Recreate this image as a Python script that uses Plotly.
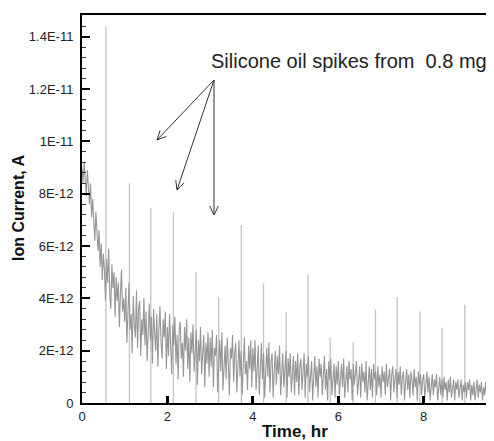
import math
import plotly.graph_objects as go

# ---- data (ion current in units of 1e-12 A) ----
sample_step_hr = 0.025
noise_pA = [
    # hour 0
    9.0, 8.4, 9.2, 8.7, 7.9, 8.9, 8.2, 7.6, 8.4, 7.1, 7.8, 6.9, 6.2, 7.3, 6.5, 5.8, 6.6, 5.2, 6.1, 4.7,
    5.7, 5.1, 3.9, 5.5, 4.6, 5.9, 4.1, 3.6, 5.3, 4.4, 5.0, 3.3, 4.8, 3.9, 4.6, 2.9, 4.2, 5.1, 3.5, 4.0,
    # hour 1
    3.1, 4.4, 2.3, 3.7, 4.6, 2.8, 3.4, 1.9, 4.1, 3.0, 2.5, 4.3, 2.1, 3.6, 3.9, 1.8, 3.2, 2.6, 4.0, 2.2,
    3.5, 1.6, 2.9, 3.8, 2.4, 3.3, 1.5, 3.6, 2.7, 2.0, 3.4, 1.4, 2.8, 3.7, 2.3, 1.7, 3.2, 2.5, 3.5, 1.3,
    # hour 2
    2.9, 1.8, 3.4, 2.4, 1.1, 3.0, 2.2, 3.3, 1.5, 2.6, 0.9, 2.8, 3.1, 1.7, 2.3, 1.0, 2.9, 2.0, 3.2, 1.3,
    2.5, 0.8, 2.7, 1.9, 3.0, 1.2, 2.2, 2.8, 0.7, 2.4, 1.6, 2.9, 1.1, 2.1, 2.6, 0.6, 2.3, 1.5, 2.7, 1.0,
    # hour 3
    2.5, 1.4, 2.8, 0.6, 2.1, 1.8, 2.6, 0.4, 1.9, 2.4, 1.2, 2.7, 0.5, 1.6, 2.2, 0.9, 2.5, 1.5, 0.3, 2.1,
    1.7, 2.6, 0.8, 1.9, 2.3, 0.4, 1.4, 2.4, 1.0, 2.0, 0.3, 1.8, 2.5, 1.1, 1.6, 0.5, 2.2, 1.3, 2.4, 0.6,
    # hour 4
    2.1, 1.2, 2.4, 0.5, 1.7, 2.2, 0.3, 1.5, 2.3, 0.9, 1.9, 0.2, 1.4, 2.1, 1.0, 2.3, 0.4, 1.6, 1.9, 0.2,
    1.2, 2.0, 0.7, 1.8, 1.1, 2.2, 0.3, 1.5, 1.9, 0.6, 1.3, 2.0, 0.2, 1.7, 1.0, 1.9, 0.4, 1.4, 1.8, 0.3,
    # hour 5
    1.6, 0.8, 1.9, 0.3, 1.4, 1.7, 0.5, 1.2, 1.9, 0.2, 1.5, 1.0, 1.8, 0.4, 1.3, 1.6, 0.1, 1.1, 1.8, 0.6,
    1.4, 0.2, 1.7, 1.0, 1.5, 0.3, 1.2, 1.8, 0.5, 1.3, 0.1, 1.6, 0.9, 1.7, 0.3, 1.2, 1.5, 0.2, 1.4, 0.7,
    # hour 6
    1.6, 0.3, 1.2, 1.5, 0.6, 1.7, 0.2, 1.1, 1.4, 0.4, 1.6, 0.9, 1.3, 0.1, 1.5, 0.7, 1.2, 1.6, 0.3, 1.0,
    1.4, 0.2, 1.5, 0.8, 1.2, 0.4, 1.6, 0.1, 1.1, 1.4, 0.5, 1.3, 0.2, 1.5, 0.9, 1.2, 0.3, 1.4, 0.6, 1.1,
    # hour 7
    0.2, 1.4, 0.8, 1.2, 0.3, 1.5, 0.6, 1.0, 1.3, 0.1, 1.1, 1.4, 0.4, 0.9, 1.3, 0.2, 1.2, 0.7, 1.4, 0.3,
    1.0, 1.2, 0.1, 0.8, 1.3, 0.5, 1.1, 0.2, 1.2, 0.9, 0.3, 1.3, 0.6, 1.0, 0.1, 1.2, 0.7, 1.1, 0.3, 0.9,
    # hour 8
    1.1, 0.2, 0.9, 1.2, 0.4, 1.0, 0.1, 0.8, 1.1, 0.3, 0.9, 0.6, 1.1, 0.1, 0.7, 1.0, 0.3, 0.9, 0.2, 1.0,
    0.5, 0.8, 0.1, 0.9, 0.4, 1.0, 0.2, 0.7, 0.9, 0.1, 0.8, 0.5, 0.9, 0.2, 0.6, 0.9, 0.1, 0.7, 0.4, 0.8,
    # hour 9
    0.2, 0.8, 0.5, 0.9, 0.1, 0.7, 0.3, 0.8, 0.1, 0.6, 0.9, 0.2, 0.7, 0.4, 0.8, 0.1, 0.6, 0.3, 0.8, 0.2,
    0.5, 0.7, 0.1, 0.6, 0.3, 0.7,
]
noise_time_hr = [round(i * sample_step_hr, 3) for i in range(len(noise_pA))]

spike_time_hr = [0.56, 1.11, 1.61, 2.14, 2.67, 3.20, 3.73, 4.25, 4.78, 5.29,
                 5.81, 6.35, 6.87, 7.38, 7.91, 8.43, 8.96, 9.50]
spike_peak_pA = [14.4, 8.4, 7.45, 7.3, 5.0, 4.05, 6.8, 4.57, 3.48, 4.92,
                 2.5, 2.33, 3.57, 4.05, 3.5, 2.88, 3.76, 2.52]

y_tick_vals_pA = [0, 2, 4, 6, 8, 10, 12, 14]
y_tick_text = ["0", "2E-12", "4E-12", "6E-12", "8E-12", "1E-11", "1.2E-11", "1.4E-11"]
x_tick_vals = [0, 2, 4, 6, 8]

E12 = 1e-12

# spike traces as vertical segments
sx, sy = [], []
for t, p in zip(spike_time_hr, spike_peak_pA):
    sx += [t, t, None]
    sy += [0, p * E12, None]

fig = go.Figure()
fig.add_trace(go.Scatter(x=sx, y=sy, mode="lines",
                         line=dict(color="#c4c4c4", width=1.3),
                         hoverinfo="skip", showlegend=False))
fig.add_trace(go.Scatter(x=noise_time_hr, y=[v * E12 for v in noise_pA], mode="lines",
                         line=dict(color="#979797", width=1.1),
                         showlegend=False))

font_family = "Liberation Sans, Arial, sans-serif"

# page body has an 8px margin; figure is sized to fit the 494x441 window
W, H = 486, 433
ML, MT, MB = 74, 7, 38
PW = W - ML
PH = H - MT - MB

fig.update_layout(
    width=W, height=H,
    margin=dict(l=ML, r=0, t=MT, b=MB),
    paper_bgcolor="white", plot_bgcolor="white",
    font=dict(family=font_family, color="#222", size=13),
    showlegend=False,
    xaxis=dict(range=[0, 9.645], tickvals=x_tick_vals, ticktext=[str(v) for v in x_tick_vals],
               ticks="inside", ticklen=7, tickwidth=3, tickcolor="black",
               showline=True, linecolor="black", linewidth=2, mirror=True,
               showgrid=False, zeroline=False, tickfont=dict(size=13, color="#222")),
    yaxis=dict(range=[0, 14.83 * E12], tickvals=[v * E12 for v in y_tick_vals_pA], ticktext=y_tick_text,
               ticks="inside", ticklen=8, tickwidth=2, tickcolor="black",
               minor=dict(dtick=0.4 * E12, ticks="inside", ticklen=4, tickwidth=1, tickcolor="#333"),
               showline=True, linecolor="black", linewidth=2, mirror=False,
               showgrid=False, zeroline=False, tickfont=dict(size=13, color="#222"),
               ticklabelstandoff=4),
)

# screen pixel -> paper coordinate
def px_x(px):
    return (px - 8 - ML) / PW

def px_y(py):
    return (MT + PH - (py - 8)) / PH

annotations = [
    dict(text="<b>Time, hr</b>", x=px_x(295), y=px_y(431), xref="paper", yref="paper",
         xanchor="center", yanchor="middle", showarrow=False, font=dict(size=17, color="#111")),
    dict(text="<b>Ion Current, A</b>", x=px_x(18), y=px_y(208), xref="paper", yref="paper",
         xanchor="center", yanchor="middle", textangle=-90, showarrow=False,
         font=dict(size=16, color="#111")),
    dict(text="Silicone oil spikes from  0.8 mg", x=px_x(209), y=px_y(61), xref="paper", yref="paper",
         xanchor="left", yanchor="middle", showarrow=False, font=dict(size=20, color="#222")),
]
fig.update_layout(annotations=annotations)

# callout arrows (screen pixels): shared tail, three open-V heads
tail_px = (214, 80)
heads_px = [(157, 140), (177, 190), (214, 215)]
shapes = []
line_style = dict(color="#333", width=1)
for hx, hy in heads_px:
    shapes.append(dict(type="line", xref="paper", yref="paper",
                       x0=px_x(tail_px[0]), y0=px_y(tail_px[1]), x1=px_x(hx), y1=px_y(hy), line=line_style))
    ang = math.atan2(tail_px[1] - hy, tail_px[0] - hx)
    for d in (-0.45, 0.45):
        wx = hx + 10 * math.cos(ang + d)
        wy = hy + 10 * math.sin(ang + d)
        shapes.append(dict(type="line", xref="paper", yref="paper",
                           x0=px_x(hx), y0=px_y(hy), x1=px_x(wx), y1=px_y(wy), line=line_style))
fig.update_layout(shapes=shapes)

fig.write_html("out.html")
